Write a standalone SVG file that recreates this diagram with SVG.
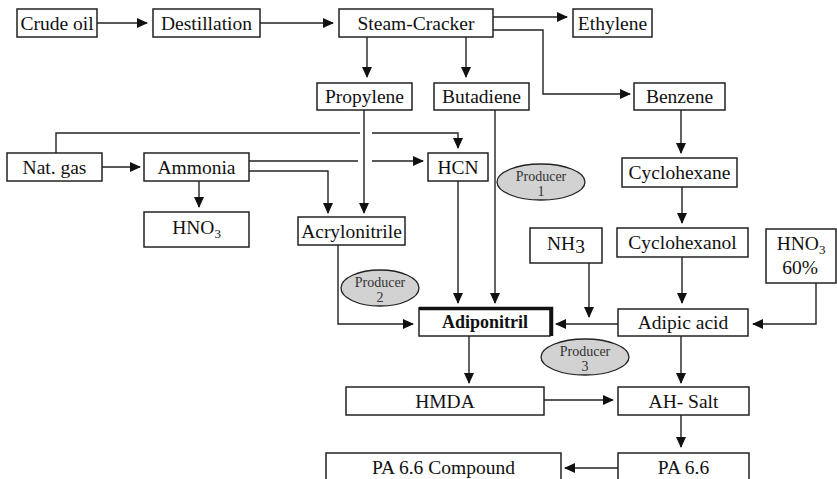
<svg xmlns="http://www.w3.org/2000/svg" width="837" height="479" viewBox="0 0 837 479">
  <defs>
    <marker id="arrow" markerUnits="userSpaceOnUse" markerWidth="11" markerHeight="10" refX="10" refY="5" orient="auto">
      <path d="M0,0 L11,5 L0,10 z" fill="#111"/>
    </marker>
    <style>
      .box { fill: #fff; stroke: #222; stroke-width: 1.5; }
      .lbl { font-size: 19.5px; fill: #111; text-anchor: middle; }
      .bold { font-weight: bold; font-size: 18px; }
      .prod { fill: #d2d2d2; stroke: #222; stroke-width: 1.3; }
      .ptxt { font-size: 14px; fill: #333; text-anchor: middle; }
      .wire { fill: none; stroke: #222; stroke-width: 1.4; }
      .arr { marker-end: url(#arrow); }
    </style>
  </defs>

  <rect width="837" height="479" fill="#fff"/>

  <!-- connectors -->
  <g id="connectors">
    <path class="wire arr" d="M97,23 H147"/>
    <path class="wire arr" d="M260,23 H333"/>
    <path class="wire arr" d="M493,17 H567"/>
    <path class="wire arr" d="M493,30 H543 V94 H630"/>
    <path class="wire arr" d="M367,37 V77"/>
    <path class="wire arr" d="M466,37 V77"/>
    <!-- Nat. gas to HCN, broken where the propylene line crosses -->
    <path class="wire" d="M56,153 V133 H360"/>
    <path class="wire arr" d="M372,133 H458 V148"/>
    <path class="wire arr" d="M364,110 V213"/>
    <path class="wire arr" d="M102,167 H140"/>
    <!-- Ammonia to HCN, broken at the crossing -->
    <path class="wire" d="M249,161 H358"/>
    <path class="wire arr" d="M372,161 H423"/>
    <path class="wire arr" d="M249,171 H328 V213"/>
    <path class="wire arr" d="M199,181 V207"/>
    <path class="wire arr" d="M338,245 V324 H413"/>
    <path class="wire arr" d="M458,181 V303"/>
    <path class="wire arr" d="M495,110 V303"/>
    <path class="wire arr" d="M681,110 V153"/>
    <path class="wire arr" d="M682,187 V223"/>
    <path class="wire arr" d="M682,257 V303"/>
    <path class="wire arr" d="M589,263 V317"/>
    <path class="wire arr" d="M618,324 H556"/>
    <path class="wire arr" d="M816,283 V324 H753"/>
    <path class="wire arr" d="M469,336 V383"/>
    <path class="wire arr" d="M681,336 V383"/>
    <path class="wire arr" d="M544,400 H613"/>
    <path class="wire arr" d="M681,415 V447"/>
    <path class="wire arr" d="M618,468 H565"/>
  </g>

  <g font-family="Liberation Serif, serif">
  <g id="crude-oil"><rect class="box" x="17" y="9" width="80" height="28"/><text class="lbl" x="57" y="30">Crude oil</text></g>
  <g id="destillation"><rect class="box" x="153" y="9" width="107" height="28"/><text class="lbl" x="206.5" y="30">Destillation</text></g>
  <g id="steam-cracker"><rect class="box" x="339" y="9" width="154" height="28"/><text class="lbl" x="416" y="30">Steam-Cracker</text></g>
  <g id="ethylene"><rect class="box" x="573" y="9" width="79" height="28"/><text class="lbl" x="612.5" y="30">Ethylene</text></g>
  <g id="propylene"><rect class="box" x="317" y="83" width="95" height="27"/><text class="lbl" x="364.5" y="103">Propylene</text></g>
  <g id="butadiene"><rect class="box" x="434" y="83" width="95" height="27"/><text class="lbl" x="481.5" y="103">Butadiene</text></g>
  <g id="benzene"><rect class="box" x="634" y="83" width="91" height="27"/><text class="lbl" x="679.5" y="103">Benzene</text></g>
  <g id="nat-gas"><rect class="box" x="7" y="153" width="95" height="28"/><text class="lbl" x="54.5" y="174">Nat. gas</text></g>
  <g id="ammonia"><rect class="box" x="144" y="153" width="105" height="28"/><text class="lbl" x="196.5" y="174">Ammonia</text></g>
  <g id="hcn"><rect class="box" x="428" y="153" width="60" height="28"/><text class="lbl" x="458" y="174">HCN</text></g>
  <g id="hno3"><rect class="box" x="144" y="212" width="105" height="35"/><text class="lbl" x="196.5" y="234">HNO<tspan font-size="13" dy="4">3</tspan></text></g>
  <g id="acrylonitrile"><rect class="box" x="298" y="217" width="107" height="28"/><text class="lbl" x="351.5" y="238">Acrylonitrile</text></g>
  <g id="cyclohexane"><rect class="box" x="622" y="158" width="115" height="29"/><text class="lbl" x="679.5" y="179">Cyclohexane</text></g>
  <g id="nh3"><rect class="box" x="530" y="228" width="72" height="35"/><text class="lbl" x="566" y="250">NH<tspan dy="3">3</tspan></text></g>
  <g id="cyclohexanol"><rect class="box" x="617" y="228" width="131" height="29"/><text class="lbl" x="682.5" y="249">Cyclohexanol</text></g>
  <g id="hno3-60"><rect class="box" x="766" y="229" width="70" height="54"/><text class="lbl" x="801" y="250">HNO<tspan font-size="13" dy="4">3</tspan></text><text class="lbl" x="800" y="274">60%</text></g>
  <g id="adiponitril">
    <rect class="box" x="419" y="308" width="131" height="28"/>
    <path d="M419,308.5 H551.5 V336" fill="none" stroke="#111" stroke-width="3.5"/>
    <text class="lbl bold" x="485" y="328">Adiponitril</text>
  </g>
  <g id="adipic-acid"><rect class="box" x="618" y="309" width="130" height="27"/><text class="lbl" x="683" y="329">Adipic acid</text></g>
  <g id="hmda"><rect class="box" x="346" y="387" width="198" height="28"/><text class="lbl" x="445" y="408">HMDA</text></g>
  <g id="ah-salt"><rect class="box" x="618" y="387" width="131" height="28"/><text class="lbl" x="683.5" y="408">AH- Salt</text></g>
  <g id="pa66-compound"><rect class="box" x="326" y="453" width="235" height="32"/><text class="lbl" x="443.5" y="474">PA 6.6 Compound</text></g>
  <g id="pa66"><rect class="box" x="618" y="453" width="131" height="32"/><text class="lbl" x="683.5" y="474">PA 6.6</text></g>

  <g id="producer-1"><ellipse class="prod" cx="541" cy="182" rx="44" ry="18"/><text class="ptxt" x="541" y="181">Producer</text><text class="ptxt" x="541" y="196">1</text></g>
  <g id="producer-2"><ellipse class="prod" cx="380" cy="288" rx="39" ry="18"/><text class="ptxt" x="380" y="287">Producer</text><text class="ptxt" x="380" y="302">2</text></g>
  <g id="producer-3"><ellipse class="prod" cx="585" cy="357" rx="44" ry="18"/><text class="ptxt" x="585" y="356">Producer</text><text class="ptxt" x="585" y="371">3</text></g>
  </g>
</svg>
